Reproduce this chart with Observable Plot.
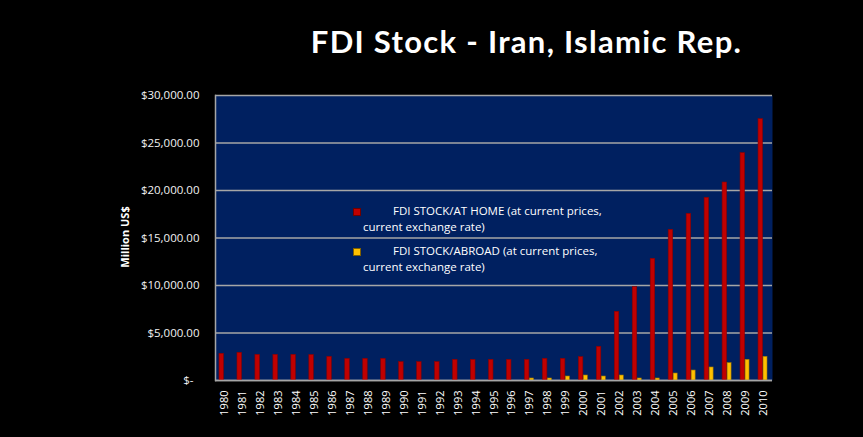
<!DOCTYPE html>
<html>
<head>
<meta charset="utf-8">
<script src="https://cdn.jsdelivr.net/npm/d3@7"></script>
<script src="https://cdn.jsdelivr.net/npm/@observablehq/plot@0.6"></script>
<style>
  html, body { margin: 0; padding: 0; background: #000; }
  #wrap { position: relative; width: 863px; height: 437px; background: #000; overflow: hidden; }
  #title { position: absolute; left: 0; top: 0; width: 863px; height: 80px; box-sizing: border-box; padding-left: 190px; text-align: center;
           font-family: Lato, "Open Sans", sans-serif; font-weight: bold; font-size: 31px; letter-spacing: 1.3px; color: #fff; line-height: 30px; padding-top: 26px; }
  #chart { position: absolute; left: 0; top: 80px; }
  #ylabel { position: absolute; left: 124px; top: 237px; transform: translate(-50%, -50%) rotate(-90deg); white-space: nowrap;
            font-family: "Open Sans", sans-serif; font-weight: bold; font-size: 11px; color: #fff; }
  .leg { position: absolute; font-family: "Open Sans", sans-serif; font-size: 11.5px; color: #fff; line-height: 16px; white-space: nowrap; }
  .sw { position: absolute; width: 6px; height: 6px; }
</style>
</head>
<body>
<div id="wrap">
  <div id="title">FDI Stock - Iran, Islamic Rep.</div>
  <div id="chart"></div>
  <div id="ylabel">Million US$</div>
  <div class="sw" style="left:353px; top:208px; background:#c00000; border:0.5px solid #700000;"></div>
  <div class="leg" style="left:363px; top:203px;"><span style="padding-left:30px">FDI STOCK/AT HOME (at current prices,</span><br>current exchange rate)</div>
  <div class="sw" style="left:353px; top:248px; background:#ffc000; border:0.5px solid #806000;"></div>
  <div class="leg" style="left:363px; top:243px;"><span style="padding-left:30px">FDI STOCK/ABROAD (at current prices,</span><br>current exchange rate)</div>
</div>
<script>
const years = [1980,1981,1982,1983,1984,1985,1986,1987,1988,1989,1990,1991,1992,1993,1994,1995,1996,1997,1998,1999,2000,2001,2002,2003,2004,2005,2006,2007,2008,2009,2010];
const atHome = [2810,2915,2700,2700,2700,2680,2490,2280,2280,2280,1930,1930,1930,2175,2175,2175,2175,2175,2280,2280,2455,3545,7230,9825,12810,15860,17545,19230,20840,23930,27510];
const abroad = [0,0,0,0,0,0,0,0,0,0,0,0,0,0,0,0,0,210,210,420,525,420,525,210,210,735,1050,1370,1825,2175,2490];
const yTicks = [0,5000,10000,15000,20000,25000,30000];

const homeData = years.map((y, i) => ({year: String(y), value: atHome[i]}));
const abroadData = years.map((y, i) => ({year: String(y), value: abroad[i]}));

const fmt = d => d === 0 ? "$-\u00a0\u00a0" : "$" + d3.format(",.2f")(d);

const chart = Plot.plot({
  width: 863,
  height: 357,
  marginTop: 15,
  marginBottom: 57,
  marginLeft: 215,
  marginRight: 91,
  style: {background: "transparent", fontFamily: "'Open Sans', sans-serif"},
  x: {type: "band", domain: years.map(String), padding: 0},
  y: {domain: [0, 30000]},
  marks: [
    Plot.frame({fill: "#002060", stroke: null}),
    Plot.gridY(yTicks, {stroke: "#a6a6a6", strokeOpacity: 1, strokeWidth: 1.5}),
    Plot.barY(homeData, {x: "year", y: "value", fill: "#c00000", stroke: "#8a0000", strokeWidth: 0.6, insetLeft: 4, insetRight: 9.5}),
    Plot.barY(abroadData.filter(d => d.value > 0), {x: "year", y: "value", fill: "#ffc000", stroke: "#a07800", strokeWidth: 0.6, insetLeft: 9, insetRight: 5}),
    Plot.frame({anchor: "left", stroke: "#a6a6a6", strokeWidth: 1.5}),
    Plot.ruleY([0], {stroke: "#a6a6a6", strokeWidth: 1.5}),
    Plot.axisY({ticks: yTicks, tickFormat: fmt, tickSize: 0, tickPadding: 16, fontSize: 11.5, fill: "#f2f2f2", label: null}),
    Plot.axisX({tickRotate: -90, tickSize: 0, tickPadding: 10, fontSize: 11, fill: "#ffffff", label: null})
  ]
});
document.getElementById("chart").appendChild(chart);
</script>
</body>
</html>
